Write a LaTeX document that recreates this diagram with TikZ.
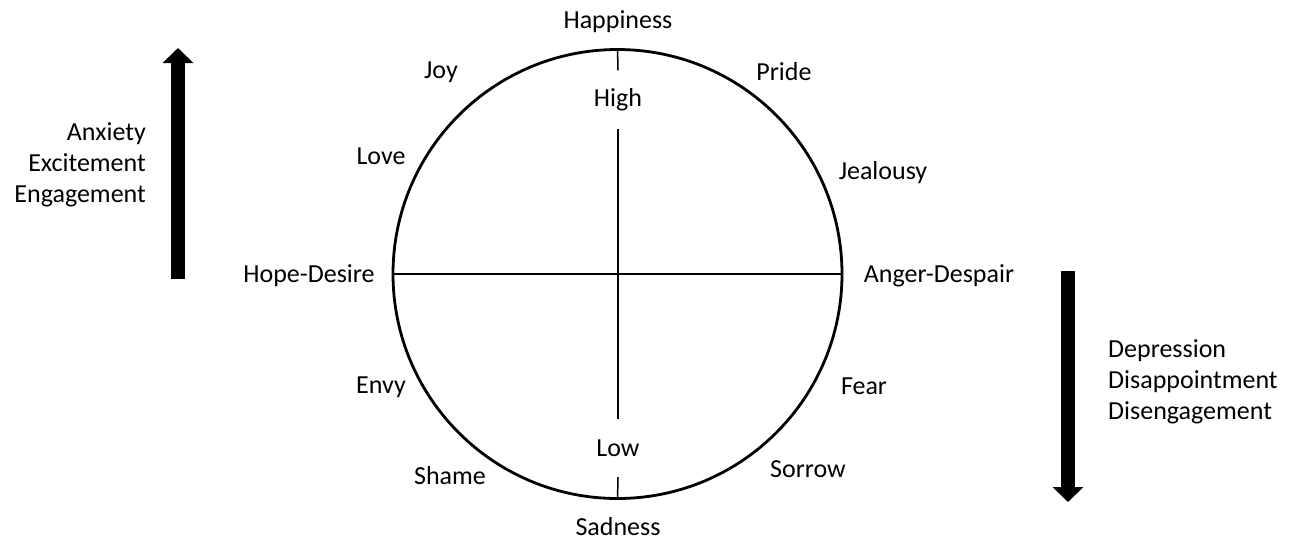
\documentclass[tikz,border=0pt]{standalone}
\usepackage{fontspec}
\setmainfont{Carlito}
\usetikzlibrary{arrows.meta}
\tikzstyle{emo} = [font=\fontsize{26}{31}\selectfont, inner sep=0pt]
\tikzstyle{level} = [font=\fontsize{26}{31}\selectfont, inner sep=0pt, minimum height=58pt]
\tikzstyle{axis} = [line width=1.5pt]
\tikzstyle{bigarrow} = [line width=14pt, -{Triangle[width=30pt, length=15pt]}]

\begin{document}
\begin{tikzpicture}[x=1pt, y=-1pt]
\useasboundingbox (0,0) rectangle (1290,542);

% Wheel
\node[circle, draw, line width=2.8pt, minimum size=449pt, inner sep=0pt] (wheel) at (617.5,274) {};
\node[level] (high) at (618,99.5) {High};
\node[level] (low) at (618,448) {Low};

\draw[axis] (wheel.north) -- (high.north);
\draw[axis] (high.south) -- (low.north);
\draw[axis] (low.south) -- (wheel.south);
\draw[axis] (wheel.west) -- (wheel.east);

% Emotions round the wheel
\node[emo] (happiness) at (618,22) {Happiness};
\node[emo] (sadness) at (618,527) {Sadness};
\node[emo] (hope) at (309,276) {Hope-Desire};
\node[emo] (anger) at (939,276) {Anger-Despair};
\node[emo] (joy) at (441,72) {Joy};
\node[emo] (pride) at (784,72) {Pride};
\node[emo] (love) at (381,156) {Love};
\node[emo] (jealousy) at (883,173) {Jealousy};
\node[emo] (envy) at (381,387) {Envy};
\node[emo] (fear) at (864,386) {Fear};
\node[emo] (shame) at (450,476) {Shame};
\node[emo] (sorrow) at (808,469) {Sorrow};

% Arousal arrows
\coordinate (upbot) at (178,279);
\coordinate (uptop) at (178,48);
\coordinate (downtop) at (1068,271);
\coordinate (downbot) at (1068,502);
\draw[bigarrow] (upbot) -- (uptop);
\draw[bigarrow] (downtop) -- (downbot);

\node[emo, align=right, anchor=east] (upper) at (146,165) {Anxiety\\Excitement\\Engagement};
\node[emo, align=left, anchor=west] (lower) at (1108,382) {Depression\\Disappointment\\Disengagement};

\end{tikzpicture}
\end{document}
